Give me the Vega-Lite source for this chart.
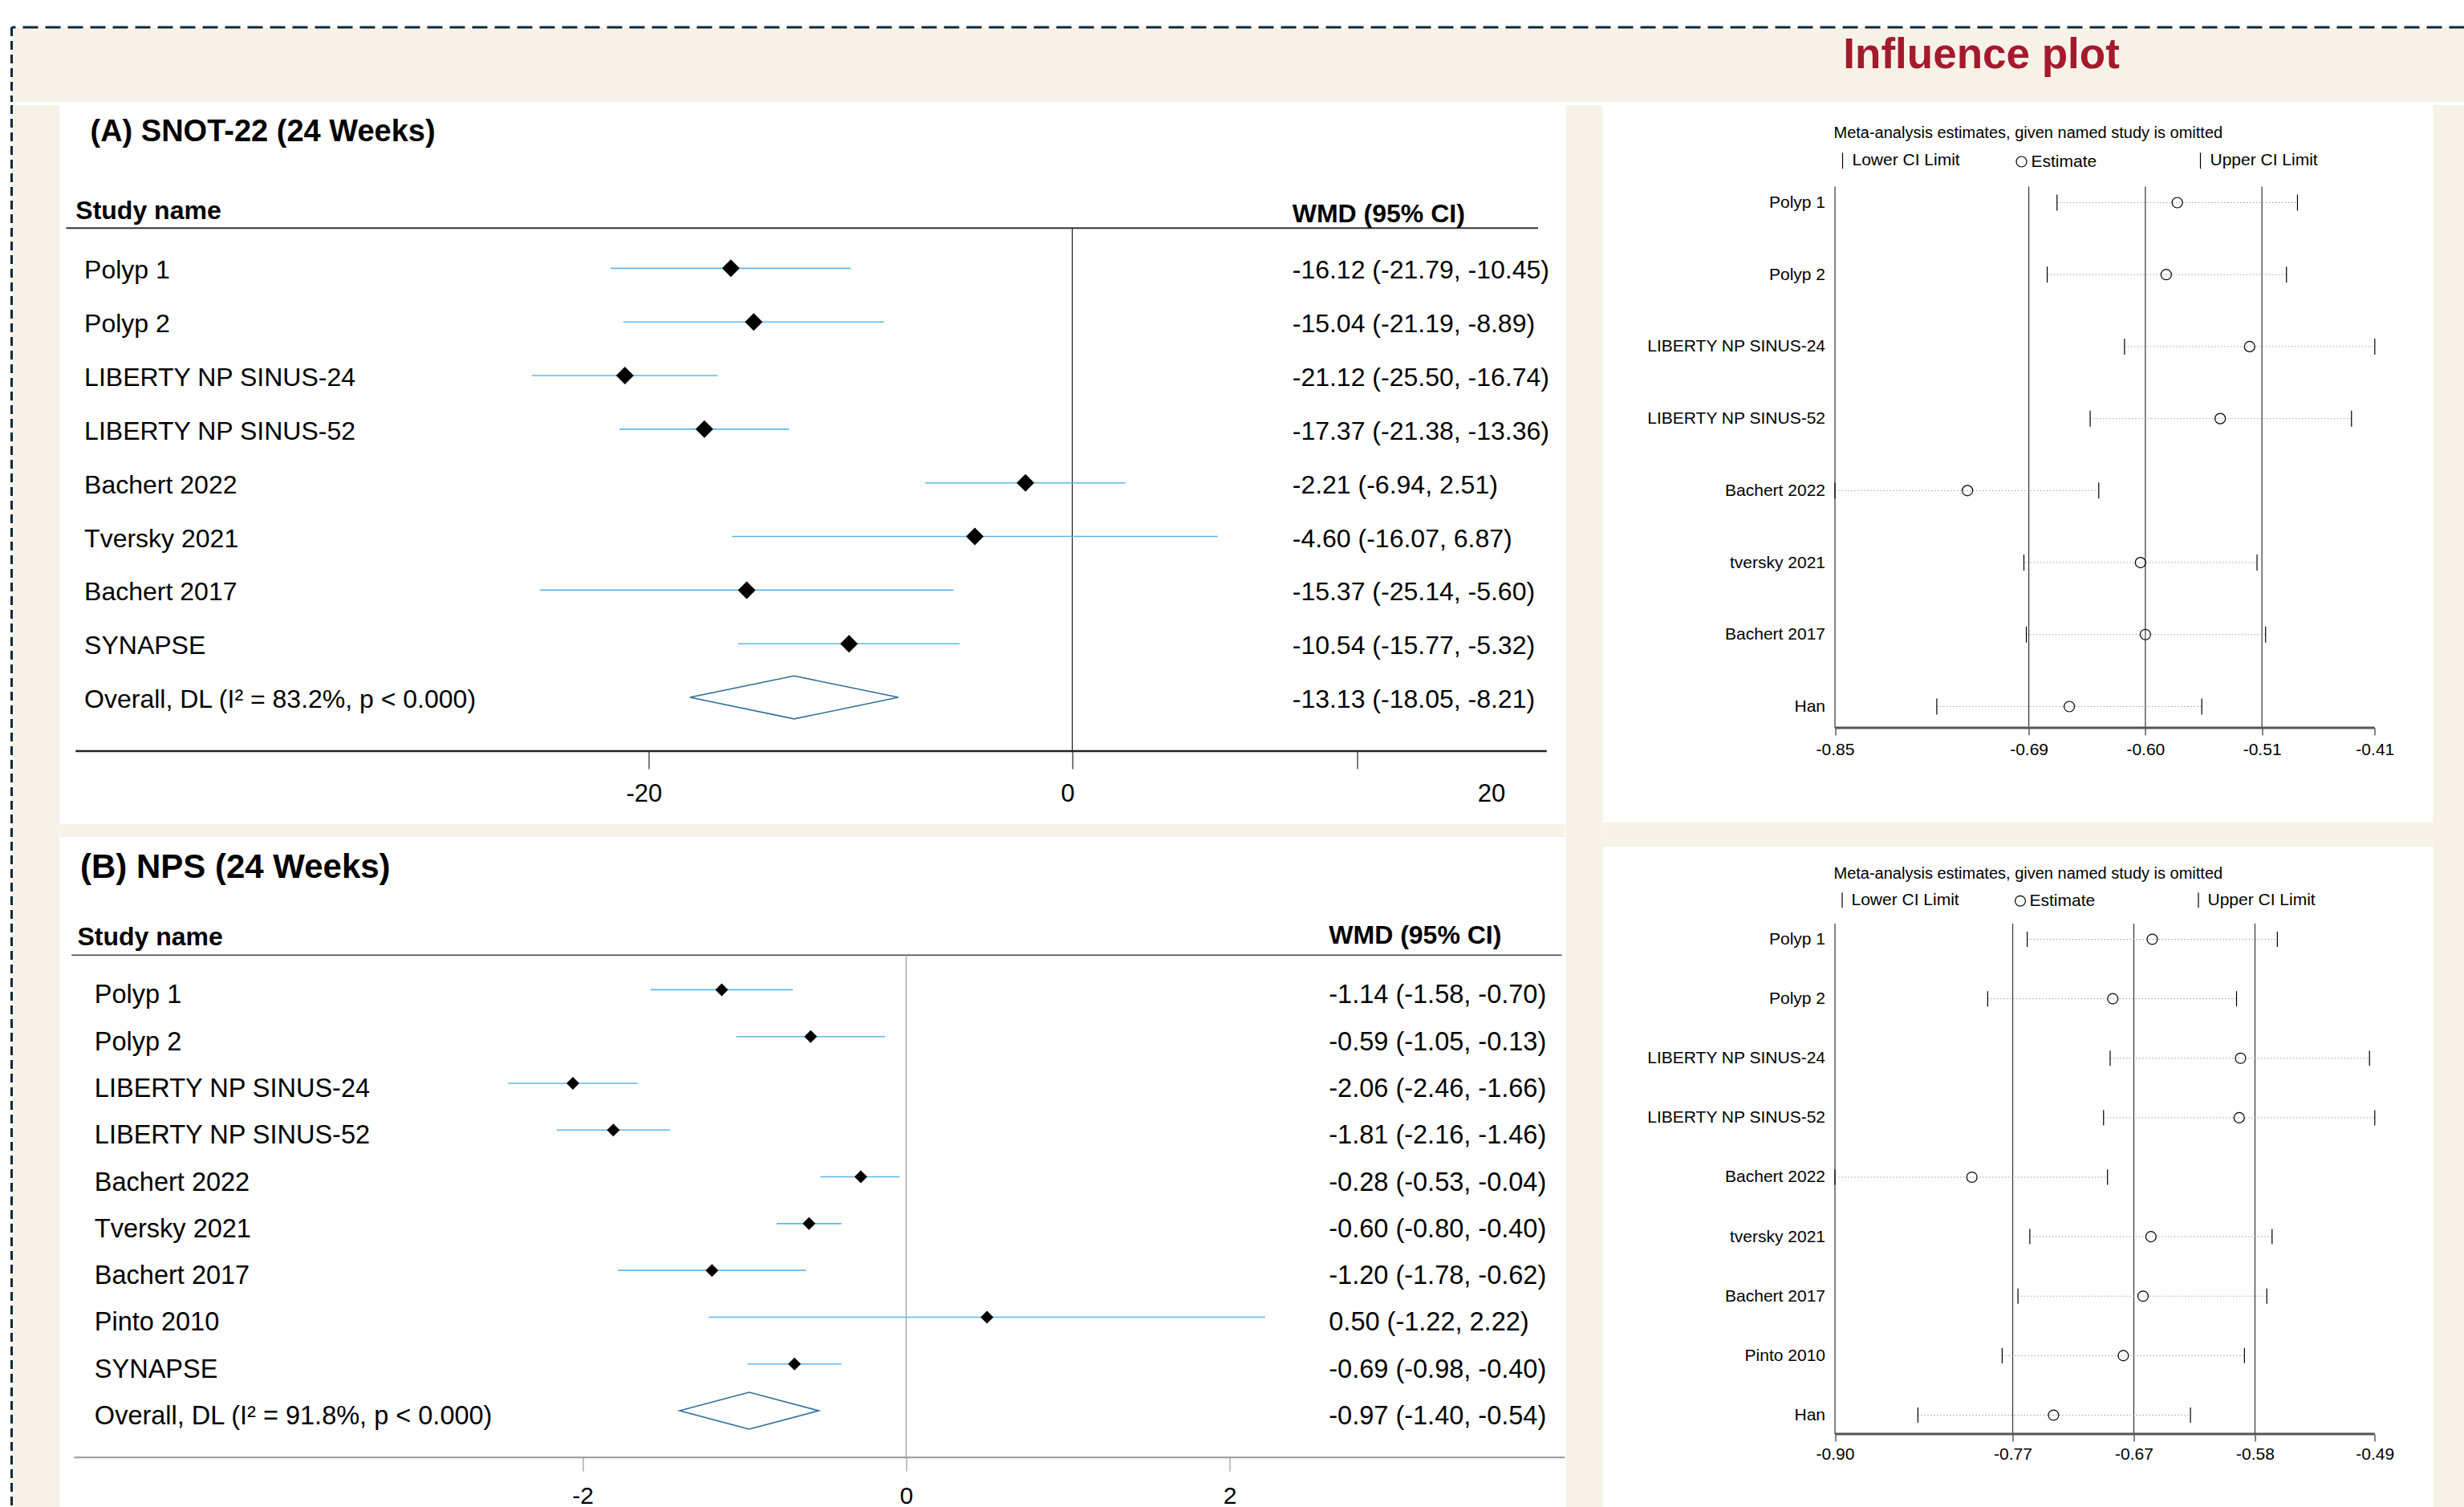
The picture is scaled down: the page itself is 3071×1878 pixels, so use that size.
{
  "$schema": "https://vega.github.io/schema/vega-lite/v6.json",
  "background": "white",
  "padding": {"left": 12.5, "top": 32, "right": 0, "bottom": 0},
  "config": {"font": "Liberation Sans", "view": {"stroke": null}},
  "datasets": {
    "snot": [
      {"study": "Polyp 1", "est": -16.12, "lower": -21.79, "upper": -10.45, "ci": "-16.12 (-21.79, -10.45)", "kind": "study"},
      {"study": "Polyp 2", "est": -15.04, "lower": -21.19, "upper": -8.89, "ci": "-15.04 (-21.19, -8.89)", "kind": "study"},
      {"study": "LIBERTY NP SINUS-24", "est": -21.12, "lower": -25.50, "upper": -16.74, "ci": "-21.12 (-25.50, -16.74)", "kind": "study"},
      {"study": "LIBERTY NP SINUS-52", "est": -17.37, "lower": -21.38, "upper": -13.36, "ci": "-17.37 (-21.38, -13.36)", "kind": "study"},
      {"study": "Bachert 2022", "est": -2.21, "lower": -6.94, "upper": 2.51, "ci": "-2.21 (-6.94, 2.51)", "kind": "study"},
      {"study": "Tversky 2021", "est": -4.60, "lower": -16.07, "upper": 6.87, "ci": "-4.60 (-16.07, 6.87)", "kind": "study"},
      {"study": "Bachert 2017", "est": -15.37, "lower": -25.14, "upper": -5.60, "ci": "-15.37 (-25.14, -5.60)", "kind": "study"},
      {"study": "SYNAPSE", "est": -10.54, "lower": -15.77, "upper": -5.32, "ci": "-10.54 (-15.77, -5.32)", "kind": "study"},
      {"study": "Overall, DL (I² = 83.2%, p < 0.000)", "est": -13.13, "lower": -18.05, "upper": -8.21, "ci": "-13.13 (-18.05, -8.21)", "kind": "overall"}
    ],
    "nps": [
      {"study": "Polyp 1", "est": -1.14, "lower": -1.58, "upper": -0.70, "ci": "-1.14 (-1.58, -0.70)", "kind": "study"},
      {"study": "Polyp 2", "est": -0.59, "lower": -1.05, "upper": -0.13, "ci": "-0.59 (-1.05, -0.13)", "kind": "study"},
      {"study": "LIBERTY NP SINUS-24", "est": -2.06, "lower": -2.46, "upper": -1.66, "ci": "-2.06 (-2.46, -1.66)", "kind": "study"},
      {"study": "LIBERTY NP SINUS-52", "est": -1.81, "lower": -2.16, "upper": -1.46, "ci": "-1.81 (-2.16, -1.46)", "kind": "study"},
      {"study": "Bachert 2022", "est": -0.28, "lower": -0.53, "upper": -0.04, "ci": "-0.28 (-0.53, -0.04)", "kind": "study"},
      {"study": "Tversky 2021", "est": -0.60, "lower": -0.80, "upper": -0.40, "ci": "-0.60 (-0.80, -0.40)", "kind": "study"},
      {"study": "Bachert 2017", "est": -1.20, "lower": -1.78, "upper": -0.62, "ci": "-1.20 (-1.78, -0.62)", "kind": "study"},
      {"study": "Pinto 2010", "est": 0.50, "lower": -1.22, "upper": 2.22, "ci": "0.50 (-1.22, 2.22)", "kind": "study"},
      {"study": "SYNAPSE", "est": -0.69, "lower": -0.98, "upper": -0.40, "ci": "-0.69 (-0.98, -0.40)", "kind": "study"},
      {"study": "Overall, DL (I² = 91.8%, p < 0.000)", "est": -0.97, "lower": -1.40, "upper": -0.54, "ci": "-0.97 (-1.40, -0.54)", "kind": "overall"}
    ],
    "inflA": [
      {"study": "Polyp 1", "Lower CI Limit": -0.669, "Estimate": -0.571, "Upper CI Limit": -0.473},
      {"study": "Polyp 2", "Lower CI Limit": -0.677, "Estimate": -0.580, "Upper CI Limit": -0.482},
      {"study": "LIBERTY NP SINUS-24", "Lower CI Limit": -0.614, "Estimate": -0.512, "Upper CI Limit": -0.410},
      {"study": "LIBERTY NP SINUS-52", "Lower CI Limit": -0.642, "Estimate": -0.536, "Upper CI Limit": -0.429},
      {"study": "Bachert 2022", "Lower CI Limit": -0.850, "Estimate": -0.742, "Upper CI Limit": -0.635},
      {"study": "tversky 2021", "Lower CI Limit": -0.696, "Estimate": -0.601, "Upper CI Limit": -0.506},
      {"study": "Bachert 2017", "Lower CI Limit": -0.694, "Estimate": -0.597, "Upper CI Limit": -0.499},
      {"study": "Han", "Lower CI Limit": -0.767, "Estimate": -0.659, "Upper CI Limit": -0.551}
    ],
    "refA": [{"v": -0.692}, {"v": -0.597}, {"v": -0.502}],
    "inflB": [
      {"study": "Polyp 1", "Lower CI Limit": -0.754, "Estimate": -0.659, "Upper CI Limit": -0.564},
      {"study": "Polyp 2", "Lower CI Limit": -0.784, "Estimate": -0.689, "Upper CI Limit": -0.595},
      {"study": "LIBERTY NP SINUS-24", "Lower CI Limit": -0.691, "Estimate": -0.592, "Upper CI Limit": -0.494},
      {"study": "LIBERTY NP SINUS-52", "Lower CI Limit": -0.696, "Estimate": -0.593, "Upper CI Limit": -0.490},
      {"study": "Bachert 2022", "Lower CI Limit": -0.900, "Estimate": -0.796, "Upper CI Limit": -0.693},
      {"study": "tversky 2021", "Lower CI Limit": -0.752, "Estimate": -0.660, "Upper CI Limit": -0.568},
      {"study": "Bachert 2017", "Lower CI Limit": -0.761, "Estimate": -0.666, "Upper CI Limit": -0.572},
      {"study": "Pinto 2010", "Lower CI Limit": -0.773, "Estimate": -0.681, "Upper CI Limit": -0.589},
      {"study": "Han", "Lower CI Limit": -0.837, "Estimate": -0.734, "Upper CI Limit": -0.630}
    ],
    "refB": [{"v": -0.765}, {"v": -0.673}, {"v": -0.581}]
  },
  "spacing": 0,
  "resolve": {"scale": {"shape": "independent"}, "legend": {"shape": "independent"}},
  "vconcat": [
    {
      "width": 3057, "height": 93,
      "view": {"fill": "#f7f2e8", "stroke": null},
      "data": {"values": [{}]},
      "layer": [
        {"mark": {"type": "rule", "color": "#0f2a3a", "strokeWidth": 3, "strokeDash": [19, 9]},
         "encoding": {"y": {"datum": 1, "type": "quantitative", "scale": {"domain": [0, 1]}, "axis": null}}},
        {"mark": {"type": "rule", "color": "#0f2a3a", "strokeWidth": 3, "strokeDash": [11, 6]},
         "encoding": {"x": {"datum": 0, "type": "quantitative", "scale": {"domain": [0, 1]}, "axis": null}}},
        {"mark": {"type": "text", "text": "Influence plot", "fontSize": 53, "fontWeight": "bold", "color": "#a5192e", "align": "center", "baseline": "alphabetic"},
         "encoding": {"x": {"datum": 0.8031, "type": "quantitative", "scale": {"domain": [0, 1]}, "axis": null},
                      "y": {"datum": 0.4516, "type": "quantitative", "scale": {"domain": [0, 1]}, "axis": null}}}
      ]
    },
    {
      "spacing": 0,
      "resolve": {"scale": {"shape": "independent"}, "legend": {"shape": "independent"}},
      "hconcat": [
        {
          "width": 60, "height": 1750,
          "view": {"fill": "#f7f2e8", "stroke": null},
          "data": {"values": [{}]},
          "mark": {"type": "rule", "color": "#0f2a3a", "strokeWidth": 3, "strokeDash": [11, 6]},
          "encoding": {"x": {"datum": 0, "type": "quantitative", "scale": {"domain": [0, 1]}, "axis": null}}
        },
        {
          "spacing": 0,
          "vconcat": [
            {
              "width": 1876, "height": 896,
              "view": {"fill": "white", "stroke": null},
              "resolve": {"axis": {"x": "independent", "y": "independent"}},
              "layer": [
                {"data": {"values": [{}]},
                 "mark": {"type": "text", "text": "(A) SNOT-22 (24 Weeks)", "fontWeight": "bold", "fontSize": 38, "align": "left", "baseline": "middle", "color": "black", "dy": -36},
                 "encoding": {"x": {"datum": -46.36, "type": "quantitative", "scale": {"domain": [-47.80, 23.26], "nice": false, "zero": false}, "axis": null},
                              "y": {"datum": "_top", "type": "nominal", "scale": {"type": "point", "round": false, "domain": ["_top", "hdr", "Polyp 1", "Polyp 2", "LIBERTY NP SINUS-24", "LIBERTY NP SINUS-52", "Bachert 2022", "Tversky 2021", "Bachert 2017", "SYNAPSE", "Overall, DL (I² = 83.2%, p < 0.000)", "ftr", "_bot"], "padding": 0.7024, "align": 0.7419}, "axis": null}}},
                {"data": {"values": [{}]},
                 "mark": {"type": "rule", "color": "#333333", "strokeWidth": 2, "yOffset": 16.8},
                 "encoding": {"x": {"datum": -47.5, "type": "quantitative", "scale": {"domain": [-47.80, 23.26], "nice": false, "zero": false}, "axis": null},
                              "x2": {"datum": 21.99},
                              "y": {"datum": "hdr", "type": "nominal", "scale": {"type": "point", "round": false, "domain": ["_top", "hdr", "Polyp 1", "Polyp 2", "LIBERTY NP SINUS-24", "LIBERTY NP SINUS-52", "Bachert 2022", "Tversky 2021", "Bachert 2017", "SYNAPSE", "Overall, DL (I² = 83.2%, p < 0.000)", "ftr", "_bot"], "padding": 0.7024, "align": 0.7419}, "axis": null}}},
                {"data": {"values": [{}]},
                 "mark": {"type": "rule", "color": "#222222", "strokeWidth": 1.2, "yOffset": 16.8, "y2Offset": 0},
                 "encoding": {"x": {"datum": 0, "type": "quantitative", "scale": {"domain": [-47.80, 23.26], "nice": false, "zero": false}, "axis": null},
                              "y": {"datum": "hdr", "type": "nominal", "scale": {"type": "point", "round": false, "domain": ["_top", "hdr", "Polyp 1", "Polyp 2", "LIBERTY NP SINUS-24", "LIBERTY NP SINUS-52", "Bachert 2022", "Tversky 2021", "Bachert 2017", "SYNAPSE", "Overall, DL (I² = 83.2%, p < 0.000)", "ftr", "_bot"], "padding": 0.7024, "align": 0.7419}, "axis": null},
                              "y2": {"datum": "ftr"}}},
                {"data": {"name": "snot"},
                 "transform": [{"filter": "datum.kind == 'study'"}],
                 "mark": {"type": "rule", "color": "#5cb8e8", "strokeWidth": 1.6},
                 "encoding": {"x": {"field": "lower", "type": "quantitative", "scale": {"domain": [-47.80, 23.26], "nice": false, "zero": false}, "axis": null},
                              "x2": {"field": "upper"},
                              "y": {"field": "study", "type": "nominal", "scale": {"type": "point", "round": false, "domain": ["_top", "hdr", "Polyp 1", "Polyp 2", "LIBERTY NP SINUS-24", "LIBERTY NP SINUS-52", "Bachert 2022", "Tversky 2021", "Bachert 2017", "SYNAPSE", "Overall, DL (I² = 83.2%, p < 0.000)", "ftr", "_bot"], "padding": 0.7024, "align": 0.7419}, "axis": null}}},
                {"data": {"name": "snot"},
                 "transform": [{"filter": "datum.kind == 'study'"}],
                 "mark": {"type": "point", "shape": "diamond", "filled": true, "color": "black", "size": 484, "opacity": 1},
                 "encoding": {"x": {"field": "est", "type": "quantitative", "scale": {"domain": [-47.80, 23.26], "nice": false, "zero": false}, "axis": null},
                              "y": {"field": "study", "type": "nominal", "scale": {"type": "point", "round": false, "domain": ["_top", "hdr", "Polyp 1", "Polyp 2", "LIBERTY NP SINUS-24", "LIBERTY NP SINUS-52", "Bachert 2022", "Tversky 2021", "Bachert 2017", "SYNAPSE", "Overall, DL (I² = 83.2%, p < 0.000)", "ftr", "_bot"], "padding": 0.7024, "align": 0.7419}, "axis": null}}},
                {"data": {"name": "snot"},
                 "transform": [{"filter": "datum.kind == 'overall'"}],
                 "mark": {"type": "point", "shape": "M-1,0L0,-0.206L1,0L0,0.206Z", "filled": false, "color": "#2f6f99", "strokeWidth": 1.6, "size": 67496, "opacity": 1},
                 "encoding": {"x": {"field": "est", "type": "quantitative", "scale": {"domain": [-47.80, 23.26], "nice": false, "zero": false}, "axis": null},
                              "y": {"field": "study", "type": "nominal", "scale": {"type": "point", "round": false, "domain": ["_top", "hdr", "Polyp 1", "Polyp 2", "LIBERTY NP SINUS-24", "LIBERTY NP SINUS-52", "Bachert 2022", "Tversky 2021", "Bachert 2017", "SYNAPSE", "Overall, DL (I² = 83.2%, p < 0.000)", "ftr", "_bot"], "padding": 0.7024, "align": 0.7419}, "axis": null}}},
                {"data": {"name": "snot"},
                 "mark": {"type": "text", "align": "left", "baseline": "middle", "fontSize": 32, "color": "black", "dy": 3},
                 "encoding": {"x": {"datum": -46.64, "type": "quantitative", "scale": {"domain": [-47.80, 23.26], "nice": false, "zero": false}, "axis": null},
                              "y": {"field": "study", "type": "nominal", "scale": {"type": "point", "round": false, "domain": ["_top", "hdr", "Polyp 1", "Polyp 2", "LIBERTY NP SINUS-24", "LIBERTY NP SINUS-52", "Bachert 2022", "Tversky 2021", "Bachert 2017", "SYNAPSE", "Overall, DL (I² = 83.2%, p < 0.000)", "ftr", "_bot"], "padding": 0.7024, "align": 0.7419}, "axis": null},
                              "text": {"field": "study"}}},
                {"data": {"name": "snot"},
                 "mark": {"type": "text", "align": "left", "baseline": "middle", "fontSize": 32, "color": "black", "dy": 3},
                 "encoding": {"x": {"datum": 10.39, "type": "quantitative", "scale": {"domain": [-47.80, 23.26], "nice": false, "zero": false}, "axis": null},
                              "y": {"field": "study", "type": "nominal", "scale": {"type": "point", "round": false, "domain": ["_top", "hdr", "Polyp 1", "Polyp 2", "LIBERTY NP SINUS-24", "LIBERTY NP SINUS-52", "Bachert 2022", "Tversky 2021", "Bachert 2017", "SYNAPSE", "Overall, DL (I² = 83.2%, p < 0.000)", "ftr", "_bot"], "padding": 0.7024, "align": 0.7419}, "axis": null},
                              "text": {"field": "ci"}}},
                {"data": {"values": [{}]},
                 "mark": {"type": "text", "text": "Study name", "fontWeight": "bold", "align": "left", "baseline": "middle", "fontSize": 32, "color": "black", "dy": -4.6},
                 "encoding": {"x": {"datum": -47.05, "type": "quantitative", "scale": {"domain": [-47.80, 23.26], "nice": false, "zero": false}, "axis": null},
                              "y": {"datum": "hdr", "type": "nominal", "scale": {"type": "point", "round": false, "domain": ["_top", "hdr", "Polyp 1", "Polyp 2", "LIBERTY NP SINUS-24", "LIBERTY NP SINUS-52", "Bachert 2022", "Tversky 2021", "Bachert 2017", "SYNAPSE", "Overall, DL (I² = 83.2%, p < 0.000)", "ftr", "_bot"], "padding": 0.7024, "align": 0.7419}, "axis": null}}},
                {"data": {"values": [{}]},
                 "mark": {"type": "text", "text": "WMD (95% CI)", "fontWeight": "bold", "align": "left", "baseline": "middle", "fontSize": 32, "color": "black", "dy": -1},
                 "encoding": {"x": {"datum": 10.39, "type": "quantitative", "scale": {"domain": [-47.80, 23.26], "nice": false, "zero": false}, "axis": null},
                              "y": {"datum": "hdr", "type": "nominal", "scale": {"type": "point", "round": false, "domain": ["_top", "hdr", "Polyp 1", "Polyp 2", "LIBERTY NP SINUS-24", "LIBERTY NP SINUS-52", "Bachert 2022", "Tversky 2021", "Bachert 2017", "SYNAPSE", "Overall, DL (I² = 83.2%, p < 0.000)", "ftr", "_bot"], "padding": 0.7024, "align": 0.7419}, "axis": null}}},
                {"data": {"values": [{}]},
                 "mark": {"type": "rule", "color": "#222222", "strokeWidth": 2.5},
                 "encoding": {"x": {"datum": -47.05, "type": "quantitative", "scale": {"domain": [-47.80, 23.26], "nice": false, "zero": false},
                                    "axis": {"orient": "bottom", "offset": -91.1, "values": [-20, 0, 13.44, 20], "domain": false, "grid": false, "ticks": true, "tickSize": 22, "tickColor": "#222222", "tickWidth": 1.2, "tickOpacity": {"condition": {"test": "datum.value == 20", "value": 0}, "value": 1}, "labelFontSize": 31, "labelColor": "black", "labelPadding": 17, "labelOffset": -6, "labelFlush": false, "labelOverlap": false, "labelExpr": "datum.value == 13.44 ? '' : replace(datum.label, '−', '-')", "title": null}},
                              "x2": {"datum": 22.4},
                              "y": {"datum": "ftr", "type": "nominal", "scale": {"type": "point", "round": false, "domain": ["_top", "hdr", "Polyp 1", "Polyp 2", "LIBERTY NP SINUS-24", "LIBERTY NP SINUS-52", "Bachert 2022", "Tversky 2021", "Bachert 2017", "SYNAPSE", "Overall, DL (I² = 83.2%, p < 0.000)", "ftr", "_bot"], "padding": 0.7024, "align": 0.7419}, "axis": null}}}
              ]
            },
            {
              "width": 1876, "height": 16,
              "view": {"fill": "#f7f2e8", "stroke": null},
              "data": {"values": [{}]},
              "mark": {"type": "point", "opacity": 0}
            },
            {
              "width": 1876, "height": 838,
              "view": {"fill": "white", "stroke": null},
              "resolve": {"axis": {"x": "independent", "y": "independent"}},
              "layer": [
                {"data": {"values": [{}]},
                 "mark": {"type": "text", "text": "(B) NPS (24 Weeks)", "fontWeight": "bold", "fontSize": 42, "align": "left", "baseline": "middle", "color": "black", "dy": -36},
                 "encoding": {"x": {"datum": -5.106, "type": "quantitative", "scale": {"domain": [-5.2321, 4.0734], "nice": false, "zero": false}, "axis": null},
                              "y": {"datum": "_top", "type": "nominal", "scale": {"type": "point", "round": false, "domain": ["_top", "hdr", "Polyp 1", "Polyp 2", "LIBERTY NP SINUS-24", "LIBERTY NP SINUS-52", "Bachert 2022", "Tversky 2021", "Bachert 2017", "Pinto 2010", "SYNAPSE", "Overall, DL (I² = 91.8%, p < 0.000)", "ftr", "_bot"], "padding": 0.688, "align": 0.9203}, "axis": null}}},
                {"data": {"values": [{}]},
                 "mark": {"type": "rule", "color": "#444444", "strokeWidth": 1.5, "yOffset": 15.1},
                 "encoding": {"x": {"datum": -5.159, "type": "quantitative", "scale": {"domain": [-5.2321, 4.0734], "nice": false, "zero": false}, "axis": null},
                              "x2": {"datum": 4.053},
                              "y": {"datum": "hdr", "type": "nominal", "scale": {"type": "point", "round": false, "domain": ["_top", "hdr", "Polyp 1", "Polyp 2", "LIBERTY NP SINUS-24", "LIBERTY NP SINUS-52", "Bachert 2022", "Tversky 2021", "Bachert 2017", "Pinto 2010", "SYNAPSE", "Overall, DL (I² = 91.8%, p < 0.000)", "ftr", "_bot"], "padding": 0.688, "align": 0.9203}, "axis": null}}},
                {"data": {"values": [{}]},
                 "mark": {"type": "rule", "color": "#999999", "strokeWidth": 1.2, "yOffset": 15.1, "y2Offset": 0},
                 "encoding": {"x": {"datum": 0, "type": "quantitative", "scale": {"domain": [-5.2321, 4.0734], "nice": false, "zero": false}, "axis": null},
                              "y": {"datum": "hdr", "type": "nominal", "scale": {"type": "point", "round": false, "domain": ["_top", "hdr", "Polyp 1", "Polyp 2", "LIBERTY NP SINUS-24", "LIBERTY NP SINUS-52", "Bachert 2022", "Tversky 2021", "Bachert 2017", "Pinto 2010", "SYNAPSE", "Overall, DL (I² = 91.8%, p < 0.000)", "ftr", "_bot"], "padding": 0.688, "align": 0.9203}, "axis": null},
                              "y2": {"datum": "ftr"}}},
                {"data": {"name": "nps"},
                 "transform": [{"filter": "datum.kind == 'study'"}],
                 "mark": {"type": "rule", "color": "#5cb8e8", "strokeWidth": 1.6},
                 "encoding": {"x": {"field": "lower", "type": "quantitative", "scale": {"domain": [-5.2321, 4.0734], "nice": false, "zero": false}, "axis": null},
                              "x2": {"field": "upper"},
                              "y": {"field": "study", "type": "nominal", "scale": {"type": "point", "round": false, "domain": ["_top", "hdr", "Polyp 1", "Polyp 2", "LIBERTY NP SINUS-24", "LIBERTY NP SINUS-52", "Bachert 2022", "Tversky 2021", "Bachert 2017", "Pinto 2010", "SYNAPSE", "Overall, DL (I² = 91.8%, p < 0.000)", "ftr", "_bot"], "padding": 0.688, "align": 0.9203}, "axis": null}}},
                {"data": {"name": "nps"},
                 "transform": [{"filter": "datum.kind == 'study'"}],
                 "mark": {"type": "point", "shape": "diamond", "filled": true, "color": "black", "size": 256, "opacity": 1},
                 "encoding": {"x": {"field": "est", "type": "quantitative", "scale": {"domain": [-5.2321, 4.0734], "nice": false, "zero": false}, "axis": null},
                              "y": {"field": "study", "type": "nominal", "scale": {"type": "point", "round": false, "domain": ["_top", "hdr", "Polyp 1", "Polyp 2", "LIBERTY NP SINUS-24", "LIBERTY NP SINUS-52", "Bachert 2022", "Tversky 2021", "Bachert 2017", "Pinto 2010", "SYNAPSE", "Overall, DL (I² = 91.8%, p < 0.000)", "ftr", "_bot"], "padding": 0.688, "align": 0.9203}, "axis": null}}},
                {"data": {"name": "nps"},
                 "transform": [{"filter": "datum.kind == 'overall'"}],
                 "mark": {"type": "point", "shape": "M-1,0L0,-0.265L1,0L0,0.265Z", "filled": false, "color": "#2f6f99", "strokeWidth": 1.6, "size": 30060, "opacity": 1},
                 "encoding": {"x": {"field": "est", "type": "quantitative", "scale": {"domain": [-5.2321, 4.0734], "nice": false, "zero": false}, "axis": null},
                              "y": {"field": "study", "type": "nominal", "scale": {"type": "point", "round": false, "domain": ["_top", "hdr", "Polyp 1", "Polyp 2", "LIBERTY NP SINUS-24", "LIBERTY NP SINUS-52", "Bachert 2022", "Tversky 2021", "Bachert 2017", "Pinto 2010", "SYNAPSE", "Overall, DL (I² = 91.8%, p < 0.000)", "ftr", "_bot"], "padding": 0.688, "align": 0.9203}, "axis": null}}},
                {"data": {"name": "nps"},
                 "mark": {"type": "text", "align": "left", "baseline": "middle", "fontSize": 32.5, "color": "black", "dy": 7},
                 "encoding": {"x": {"datum": -5.017, "type": "quantitative", "scale": {"domain": [-5.2321, 4.0734], "nice": false, "zero": false}, "axis": null},
                              "y": {"field": "study", "type": "nominal", "scale": {"type": "point", "round": false, "domain": ["_top", "hdr", "Polyp 1", "Polyp 2", "LIBERTY NP SINUS-24", "LIBERTY NP SINUS-52", "Bachert 2022", "Tversky 2021", "Bachert 2017", "Pinto 2010", "SYNAPSE", "Overall, DL (I² = 91.8%, p < 0.000)", "ftr", "_bot"], "padding": 0.688, "align": 0.9203}, "axis": null},
                              "text": {"field": "study"}}},
                {"data": {"name": "nps"},
                 "mark": {"type": "text", "align": "left", "baseline": "middle", "fontSize": 32.5, "color": "black", "dy": 7},
                 "encoding": {"x": {"datum": 2.614, "type": "quantitative", "scale": {"domain": [-5.2321, 4.0734], "nice": false, "zero": false}, "axis": null},
                              "y": {"field": "study", "type": "nominal", "scale": {"type": "point", "round": false, "domain": ["_top", "hdr", "Polyp 1", "Polyp 2", "LIBERTY NP SINUS-24", "LIBERTY NP SINUS-52", "Bachert 2022", "Tversky 2021", "Bachert 2017", "Pinto 2010", "SYNAPSE", "Overall, DL (I² = 91.8%, p < 0.000)", "ftr", "_bot"], "padding": 0.688, "align": 0.9203}, "axis": null},
                              "text": {"field": "ci"}}},
                {"data": {"values": [{}]},
                 "mark": {"type": "text", "text": "Study name", "fontWeight": "bold", "align": "left", "baseline": "middle", "fontSize": 32, "color": "black", "dy": -7},
                 "encoding": {"x": {"datum": -5.123, "type": "quantitative", "scale": {"domain": [-5.2321, 4.0734], "nice": false, "zero": false}, "axis": null},
                              "y": {"datum": "hdr", "type": "nominal", "scale": {"type": "point", "round": false, "domain": ["_top", "hdr", "Polyp 1", "Polyp 2", "LIBERTY NP SINUS-24", "LIBERTY NP SINUS-52", "Bachert 2022", "Tversky 2021", "Bachert 2017", "Pinto 2010", "SYNAPSE", "Overall, DL (I² = 91.8%, p < 0.000)", "ftr", "_bot"], "padding": 0.688, "align": 0.9203}, "axis": null}}},
                {"data": {"values": [{}]},
                 "mark": {"type": "text", "text": "WMD (95% CI)", "fontWeight": "bold", "align": "left", "baseline": "middle", "fontSize": 32, "color": "black", "dy": -9},
                 "encoding": {"x": {"datum": 2.614, "type": "quantitative", "scale": {"domain": [-5.2321, 4.0734], "nice": false, "zero": false}, "axis": null},
                              "y": {"datum": "hdr", "type": "nominal", "scale": {"type": "point", "round": false, "domain": ["_top", "hdr", "Polyp 1", "Polyp 2", "LIBERTY NP SINUS-24", "LIBERTY NP SINUS-52", "Bachert 2022", "Tversky 2021", "Bachert 2017", "Pinto 2010", "SYNAPSE", "Overall, DL (I² = 91.8%, p < 0.000)", "ftr", "_bot"], "padding": 0.688, "align": 0.9203}, "axis": null}}},
                {"data": {"values": [{}]},
                 "mark": {"type": "rule", "color": "#999999", "strokeWidth": 2},
                 "encoding": {"x": {"datum": -5.143, "type": "quantitative", "scale": {"domain": [-5.2321, 4.0734], "nice": false, "zero": false},
                                    "axis": {"orient": "bottom", "offset": -64.7, "values": [-2, 0, 2], "domain": false, "grid": false, "ticks": true, "tickSize": 17, "tickColor": "#999999", "tickWidth": 1.2, "labelFontSize": 30, "labelColor": "black", "labelPadding": 16, "labelFlush": false, "labelOverlap": false, "labelExpr": "replace(datum.label, '−', '-')", "title": null}},
                              "x2": {"datum": 4.0734},
                              "y": {"datum": "ftr", "type": "nominal", "scale": {"type": "point", "round": false, "domain": ["_top", "hdr", "Polyp 1", "Polyp 2", "LIBERTY NP SINUS-24", "LIBERTY NP SINUS-52", "Bachert 2022", "Tversky 2021", "Bachert 2017", "Pinto 2010", "SYNAPSE", "Overall, DL (I² = 91.8%, p < 0.000)", "ftr", "_bot"], "padding": 0.688, "align": 0.9203}, "axis": null}}}
              ]
            }
          ]
        },
        {
          "width": 46, "height": 1750,
          "view": {"fill": "#f7f2e8", "stroke": null},
          "data": {"values": [{}]},
          "mark": {"type": "point", "opacity": 0}
        },
        {
          "spacing": 0,
          "resolve": {"scale": {"shape": "independent"}, "legend": {"shape": "independent"}},
          "vconcat": [
            {
              "width": 1035, "height": 894,
              "view": {"fill": "white", "stroke": null},
              "resolve": {"axis": {"x": "independent", "y": "independent"}},
              "layer": [
                {"data": {"name": "refA"},
                 "mark": {"type": "rule", "color": "#333333", "strokeWidth": 1.2, "yOffset": -20, "y2Offset": 26.5},
                 "encoding": {"x": {"field": "v", "type": "quantitative", "scale": {"domain": [-1.03933, -0.36246], "nice": false, "zero": false}, "axis": null},
                              "y": {"datum": "Polyp 1", "type": "nominal", "scale": {"type": "point", "round": false, "domain": ["_top", "Polyp 1", "Polyp 2", "LIBERTY NP SINUS-24", "LIBERTY NP SINUS-52", "Bachert 2022", "tversky 2021", "Bachert 2017", "Han", "_bot"], "padding": 0.4827, "align": 0.3671}, "axis": null},
                              "y2": {"datum": "Han"}}},
                {"data": {"values": [{}]},
                 "mark": {"type": "rule", "color": "#333333", "strokeWidth": 1.2, "yOffset": -20, "y2Offset": 26.5},
                 "encoding": {"x": {"datum": -0.85, "type": "quantitative", "scale": {"domain": [-1.03933, -0.36246], "nice": false, "zero": false}, "axis": null},
                              "y": {"datum": "Polyp 1", "type": "nominal", "scale": {"type": "point", "round": false, "domain": ["_top", "Polyp 1", "Polyp 2", "LIBERTY NP SINUS-24", "LIBERTY NP SINUS-52", "Bachert 2022", "tversky 2021", "Bachert 2017", "Han", "_bot"], "padding": 0.4827, "align": 0.3671}, "axis": null},
                              "y2": {"datum": "Han"}}},
                {"data": {"values": [{}]},
                 "mark": {"type": "rule", "color": "#555555", "strokeWidth": 3, "yOffset": 26.5},
                 "encoding": {"x": {"datum": -0.85, "type": "quantitative", "scale": {"domain": [-1.03933, -0.36246], "nice": false, "zero": false}, "axis": null},
                              "x2": {"datum": -0.41},
                              "y": {"datum": "Han", "type": "nominal", "scale": {"type": "point", "round": false, "domain": ["_top", "Polyp 1", "Polyp 2", "LIBERTY NP SINUS-24", "LIBERTY NP SINUS-52", "Bachert 2022", "tversky 2021", "Bachert 2017", "Han", "_bot"], "padding": 0.4827, "align": 0.3671}, "axis": null}}},
                {"data": {"name": "inflA"},
                 "mark": {"type": "rule", "color": "#a0a0a0", "strokeWidth": 1, "strokeDash": [1.5, 2.5]},
                 "encoding": {"x": {"field": "Lower CI Limit", "type": "quantitative", "scale": {"domain": [-1.03933, -0.36246], "nice": false, "zero": false}, "axis": null},
                              "x2": {"field": "Upper CI Limit"},
                              "y": {"field": "study", "type": "nominal", "scale": {"type": "point", "round": false, "domain": ["_top", "Polyp 1", "Polyp 2", "LIBERTY NP SINUS-24", "LIBERTY NP SINUS-52", "Bachert 2022", "tversky 2021", "Bachert 2017", "Han", "_bot"], "padding": 0.4827, "align": 0.3671}, "axis": null}}},
                {"data": {"name": "inflA"},
                 "transform": [{"fold": ["Lower CI Limit", "Estimate", "Upper CI Limit"], "as": ["kind", "value"]}],
                 "mark": {"type": "point", "filled": false, "color": "black", "strokeWidth": 1.2, "size": 400, "opacity": 1},
                 "encoding": {
                   "x": {"field": "value", "type": "quantitative", "scale": {"domain": [-1.03933, -0.36246], "nice": false, "zero": false},
                         "axis": {"orient": "bottom", "offset": -118, "values": [-0.85, -0.692, -0.597, -0.502, -0.41], "labelExpr": "datum.value < -0.8 ? '-0.85' : datum.value < -0.65 ? '-0.69' : datum.value < -0.55 ? '-0.60' : datum.value < -0.45 ? '-0.51' : '-0.41'", "domain": false, "grid": false, "tickSize": 9, "tickColor": "#333333", "tickWidth": 1.2, "labelFontSize": 21, "labelColor": "black", "labelPadding": 7.5, "labelFlush": false, "labelOverlap": false, "title": null}},
                   "y": {"field": "study", "type": "nominal", "scale": {"type": "point", "round": false, "domain": ["_top", "Polyp 1", "Polyp 2", "LIBERTY NP SINUS-24", "LIBERTY NP SINUS-52", "Bachert 2022", "tversky 2021", "Bachert 2017", "Han", "_bot"], "padding": 0.4827, "align": 0.3671},
                         "axis": {"orient": "left", "offset": -289.5, "values": ["Polyp 1", "Polyp 2", "LIBERTY NP SINUS-24", "LIBERTY NP SINUS-52", "Bachert 2022", "tversky 2021", "Bachert 2017", "Han"], "domain": false, "ticks": false, "grid": false, "labelPadding": 12.5, "labelFontSize": 21, "labelColor": "black", "labelLimit": 400, "title": null}},
                   "shape": {"field": "kind", "type": "nominal",
                             "scale": {"domain": ["Lower CI Limit", "Estimate", "Upper CI Limit"], "range": ["M0,-1L0,1", "M-0.65,0A0.65,0.65,0,1,0,0.65,0A0.65,0.65,0,1,0,-0.65,0Z", "M0,-1L0,1"]},
                             "legend": {"title": "Meta-analysis estimates, given named study is omitted", "orient": "none", "legendX": 288, "legendY": 25, "direction": "horizontal", "gridAlign": "all", "columnPadding": 65, "padding": 0, "titleFontSize": 20, "titleFontWeight": "normal", "titleColor": "black", "titlePadding": 13, "titleLimit": 1000, "labelFontSize": 21, "labelColor": "black", "labelOffset": 1, "labelLimit": 400, "symbolSize": 400, "symbolStrokeWidth": 1.2, "symbolStrokeColor": "black", "symbolFillColor": "transparent"}}
                 }}
              ]
            },
            {
              "width": 1035, "height": 30,
              "view": {"fill": "#f7f2e8", "stroke": null},
              "data": {"values": [{}]},
              "mark": {"type": "point", "opacity": 0}
            },
            {
              "width": 1035, "height": 826,
              "view": {"fill": "white", "stroke": null},
              "resolve": {"axis": {"x": "independent", "y": "independent"}},
              "layer": [
                {"data": {"name": "refB"},
                 "mark": {"type": "rule", "color": "#333333", "strokeWidth": 1.2, "yOffset": -19.5, "y2Offset": 23.5},
                 "encoding": {"x": {"field": "v", "type": "quantitative", "scale": {"domain": [-1.07642, -0.4457], "nice": false, "zero": false}, "axis": null},
                              "y": {"datum": "Polyp 1", "type": "nominal", "scale": {"type": "point", "round": false, "domain": ["_top", "Polyp 1", "Polyp 2", "LIBERTY NP SINUS-24", "LIBERTY NP SINUS-52", "Bachert 2022", "tversky 2021", "Bachert 2017", "Pinto 2010", "Han", "_bot"], "padding": 0.5717, "align": 0.4882}, "axis": null},
                              "y2": {"datum": "Han"}}},
                {"data": {"values": [{}]},
                 "mark": {"type": "rule", "color": "#333333", "strokeWidth": 1.2, "yOffset": -19.5, "y2Offset": 23.5},
                 "encoding": {"x": {"datum": -0.90, "type": "quantitative", "scale": {"domain": [-1.07642, -0.4457], "nice": false, "zero": false}, "axis": null},
                              "y": {"datum": "Polyp 1", "type": "nominal", "scale": {"type": "point", "round": false, "domain": ["_top", "Polyp 1", "Polyp 2", "LIBERTY NP SINUS-24", "LIBERTY NP SINUS-52", "Bachert 2022", "tversky 2021", "Bachert 2017", "Pinto 2010", "Han", "_bot"], "padding": 0.5717, "align": 0.4882}, "axis": null},
                              "y2": {"datum": "Han"}}},
                {"data": {"values": [{}]},
                 "mark": {"type": "rule", "color": "#555555", "strokeWidth": 3, "yOffset": 23.5},
                 "encoding": {"x": {"datum": -0.90, "type": "quantitative", "scale": {"domain": [-1.07642, -0.4457], "nice": false, "zero": false}, "axis": null},
                              "x2": {"datum": -0.49},
                              "y": {"datum": "Han", "type": "nominal", "scale": {"type": "point", "round": false, "domain": ["_top", "Polyp 1", "Polyp 2", "LIBERTY NP SINUS-24", "LIBERTY NP SINUS-52", "Bachert 2022", "tversky 2021", "Bachert 2017", "Pinto 2010", "Han", "_bot"], "padding": 0.5717, "align": 0.4882}, "axis": null}}},
                {"data": {"name": "inflB"},
                 "mark": {"type": "rule", "color": "#a0a0a0", "strokeWidth": 1, "strokeDash": [1.5, 2.5]},
                 "encoding": {"x": {"field": "Lower CI Limit", "type": "quantitative", "scale": {"domain": [-1.07642, -0.4457], "nice": false, "zero": false}, "axis": null},
                              "x2": {"field": "Upper CI Limit"},
                              "y": {"field": "study", "type": "nominal", "scale": {"type": "point", "round": false, "domain": ["_top", "Polyp 1", "Polyp 2", "LIBERTY NP SINUS-24", "LIBERTY NP SINUS-52", "Bachert 2022", "tversky 2021", "Bachert 2017", "Pinto 2010", "Han", "_bot"], "padding": 0.5717, "align": 0.4882}, "axis": null}}},
                {"data": {"name": "inflB"},
                 "transform": [{"fold": ["Lower CI Limit", "Estimate", "Upper CI Limit"], "as": ["kind", "value"]}],
                 "mark": {"type": "point", "filled": false, "color": "black", "strokeWidth": 1.2, "size": 361, "opacity": 1},
                 "encoding": {
                   "x": {"field": "value", "type": "quantitative", "scale": {"domain": [-1.07642, -0.4457], "nice": false, "zero": false},
                         "axis": {"orient": "bottom", "offset": -94, "values": [-0.90, -0.765, -0.673, -0.581, -0.49], "labelExpr": "datum.value < -0.85 ? '-0.90' : datum.value < -0.72 ? '-0.77' : datum.value < -0.62 ? '-0.67' : datum.value < -0.53 ? '-0.58' : '-0.49'", "domain": false, "grid": false, "tickSize": 9, "tickColor": "#333333", "tickWidth": 1.2, "labelFontSize": 21, "labelColor": "black", "labelPadding": 5.5, "labelFlush": false, "labelOverlap": false, "title": null}},
                   "y": {"field": "study", "type": "nominal", "scale": {"type": "point", "round": false, "domain": ["_top", "Polyp 1", "Polyp 2", "LIBERTY NP SINUS-24", "LIBERTY NP SINUS-52", "Bachert 2022", "tversky 2021", "Bachert 2017", "Pinto 2010", "Han", "_bot"], "padding": 0.5717, "align": 0.4882},
                         "axis": {"orient": "left", "offset": -289.5, "values": ["Polyp 1", "Polyp 2", "LIBERTY NP SINUS-24", "LIBERTY NP SINUS-52", "Bachert 2022", "tversky 2021", "Bachert 2017", "Pinto 2010", "Han"], "domain": false, "ticks": false, "grid": false, "labelPadding": 12.5, "labelFontSize": 21, "labelColor": "black", "labelLimit": 400, "title": null}},
                   "shape": {"field": "kind", "type": "nominal",
                             "scale": {"domain": ["Lower CI Limit", "Estimate", "Upper CI Limit"], "range": ["M0,-1L0,1", "M-0.68,0A0.68,0.68,0,1,0,0.68,0A0.68,0.68,0,1,0,-0.68,0Z", "M0,-1L0,1"]},
                             "legend": {"title": "Meta-analysis estimates, given named study is omitted", "orient": "none", "legendX": 288, "legendY": 24, "direction": "horizontal", "gridAlign": "all", "columnPadding": 65, "padding": 0, "titleFontSize": 20, "titleFontWeight": "normal", "titleColor": "black", "titlePadding": 12, "titleLimit": 1000, "labelFontSize": 21, "labelColor": "black", "labelOffset": 1, "labelLimit": 400, "symbolSize": 361, "symbolStrokeWidth": 1.2, "symbolStrokeColor": "black", "symbolFillColor": "transparent"}}
                 }}
              ]
            }
          ]
        },
        {
          "width": 40, "height": 1750,
          "view": {"fill": "#f7f2e8", "stroke": null},
          "data": {"values": [{}]},
          "mark": {"type": "point", "opacity": 0}
        }
      ]
    }
  ]
}
